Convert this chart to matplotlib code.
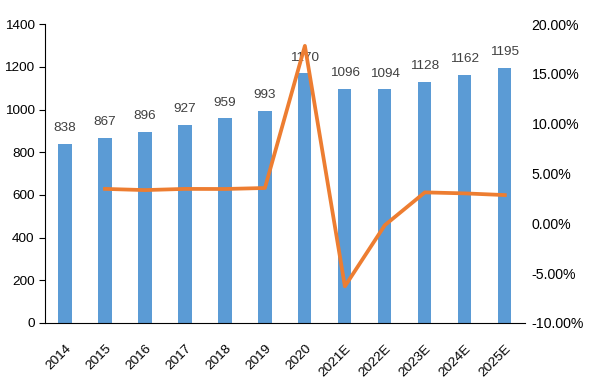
import matplotlib.pyplot as plt
from matplotlib.ticker import FuncFormatter

plt.rcParams['font.family'] = ['Liberation Sans', 'DejaVu Sans']

years = ["2014", "2015", "2016", "2017", "2018", "2019", "2020",
         "2021E", "2022E", "2023E", "2024E", "2025E"]
values = [838, 867, 896, 927, 959, 993, 1170, 1096, 1094, 1128, 1162, 1195]
growth_years = years[1:]
growth = [3.46, 3.34, 3.46, 3.45, 3.55, 17.82, -6.32, -0.18, 3.11, 3.01, 2.84]

fig = plt.figure(figsize=(5.89, 3.83), dpi=100)
ax = fig.add_axes([0.0764, 0.1567, 0.8146, 0.7803])
x = list(range(len(years)))
ax.bar(x, values, width=0.33, color="#5B9BD5", zorder=2)
for xi, v in zip(x, values):
    ax.annotate(str(v), (xi, v), xytext=(0, 7), textcoords="offset points",
                ha="center", va="bottom", fontsize=9.7, color="#404040")
ax.set_ylim(0, 1400)
ax.set_yticks(range(0, 1401, 200))
ax.set_xlim(-0.5, len(years) - 0.5)
ax.set_xticks(x)
ax.set_xticklabels(years, rotation=45, ha="right", rotation_mode="anchor")
ax.tick_params(axis="x", length=0, pad=14, labelsize=9.7)
ax.tick_params(axis="y", length=4, labelsize=9.7, direction="out")
for s in ("top", "right"):
    ax.spines[s].set_visible(False)

ax2 = ax.twinx()
gx = [years.index(y) for y in growth_years]
ax2.plot(gx, growth, color="#ED7D31", lw=2.7, zorder=3)
ax2.set_ylim(-10, 20)
ax2.set_yticks(range(-10, 21, 5))
ax2.yaxis.set_major_formatter(FuncFormatter(lambda v, p: f"{v:.2f}%"))
ax2.tick_params(axis="y", length=0, pad=5, labelsize=10.2)
for s in ("top", "right", "left", "bottom"):
    ax2.spines[s].set_visible(False)

fig.savefig("out.png", dpi=100, facecolor="white")
